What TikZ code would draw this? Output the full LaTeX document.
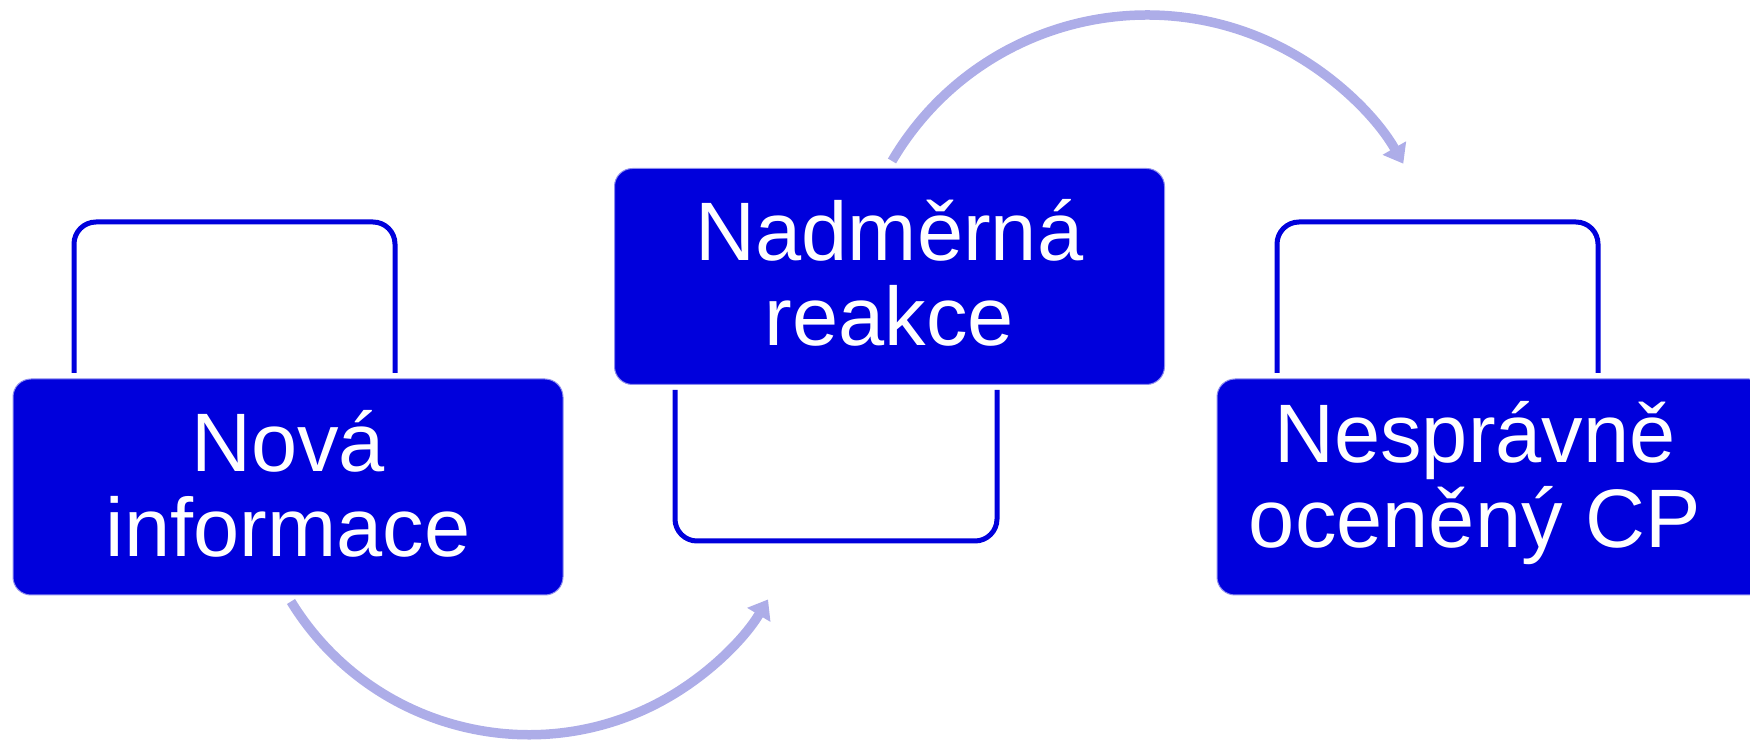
\documentclass[tikz,border=0pt]{standalone}
\usepackage{fontspec}
\setmainfont{Liberation Sans}
\usetikzlibrary{arrows.meta,calc}
\definecolor{boxblue}{RGB}{0,0,220}
\definecolor{flowblue}{RGB}{173,173,232}
\begin{document}
\begin{tikzpicture}[x=1pt,y=1pt,
  box/.style={rectangle, rounded corners=18pt, fill=boxblue, draw=boxblue!45!white, line width=1pt, minimum height=216pt, minimum width=550pt},
  txt/.style={text=white, font=\fontsize{83}{85}\selectfont, align=center, inner sep=0pt},
  frame/.style={draw=boxblue, line width=5pt, rounded corners=22pt},
  flow/.style={draw=flowblue, line width=9.5pt, -{Triangle[width=26pt,length=18pt]}}]
\useasboundingbox (0,0) rectangle (1750,739);
\clip (0,0) rectangle (1750,739);
% outline frames
\draw[frame] (74,366) -- (74,517) -- (395,517) -- (395,366);
\draw[frame] (675,349) -- (675,198) -- (997,198) -- (997,349);
\draw[frame] (1277,366) -- (1277,517) -- (1598,517) -- (1598,366);
% boxes
\node[box] (A) at (288,252) {};
\node[box] (B) at (889.5,462.5) {};
\node[box] (C) at (1492,252) {};
% texts
\node[txt] (At) at (288,255) {Nová\\informace};
\node[txt] (Bt) at (889.5,466.5) {Nadměrná\\reakce};
\node[txt] (Ct) at (1475,255.5) {Nesprávně\\oceněný CP};
% arrows
\draw[flow] ($(A.south)+(3,-6)$) arc[start angle=211.5, end angle=329, radius=279];
\draw[flow] ($(B.north)+(2.5,7)$) arc[start angle=149.6, end angle=29.8, radius=295.5];
\end{tikzpicture}
\end{document}
